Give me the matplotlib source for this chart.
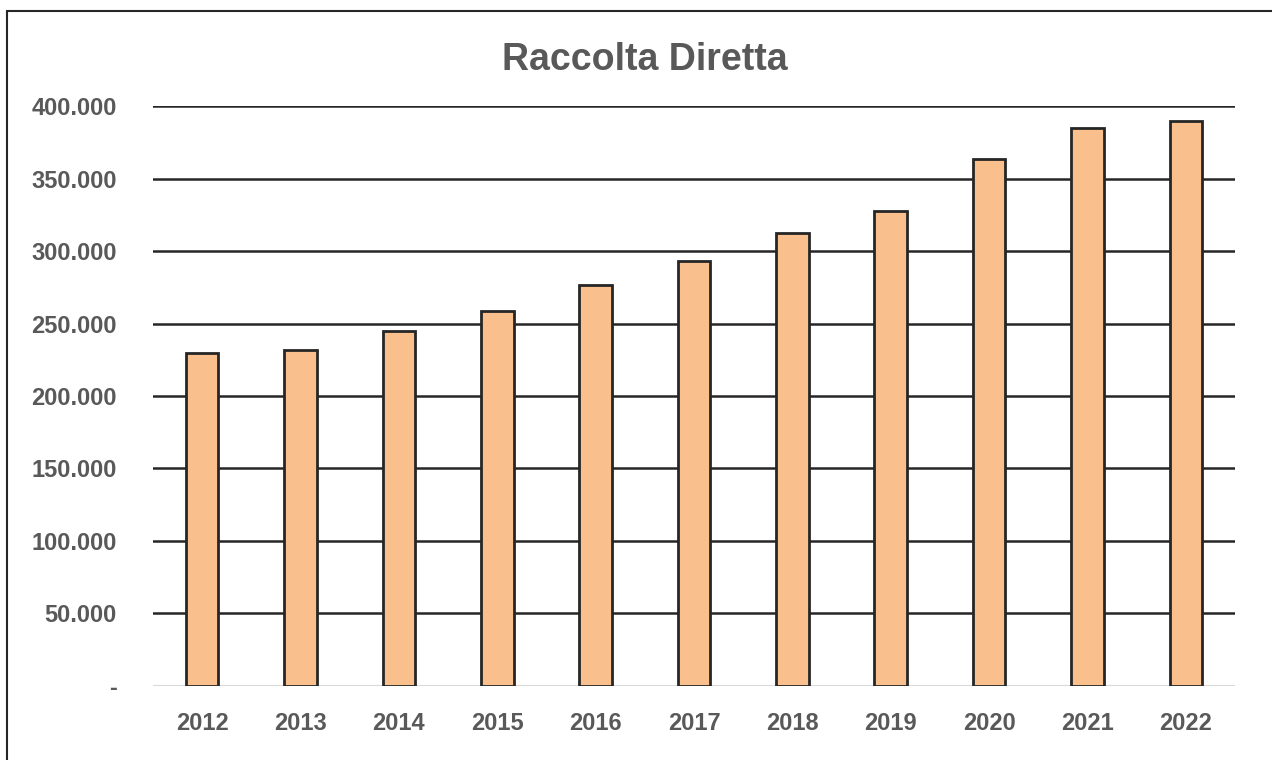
import matplotlib.pyplot as plt
from matplotlib.patches import Rectangle
from matplotlib import font_manager

years = ["2012", "2013", "2014", "2015", "2016", "2017",
         "2018", "2019", "2020", "2021", "2022"]
raccolta = [229500, 231700, 244800, 258600, 276600, 293100,
            312400, 327600, 363400, 384800, 389700]
yticks = [0, 50000, 100000, 150000, 200000, 250000, 300000, 350000, 400000]

names = {f.name for f in font_manager.fontManager.ttflist}
fam = "Liberation Sans Narrow" if "Liberation Sans Narrow" in names else "Liberation Sans"
plt.rcParams['font.family'] = [fam, 'DejaVu Sans']

grey = '#595959'

fig = plt.figure(figsize=(12.72, 7.6), dpi=100)
ax = fig.add_axes([0.1203, 0.0974, 0.8506, 0.7631])

# frame around the chart (right/bottom fall outside the picture)
fig.patches.append(Rectangle((7 / 1272, -0.05), 1.2, 1 - 11 / 760 + 0.05,
                             transform=fig.transFigure, fill=False,
                             edgecolor='#262626', linewidth=1.5))

ax.bar(range(len(years)), raccolta, width=0.33, color='#F9C08E',
       edgecolor='#262626', linewidth=2, zorder=3)

ax.set_xlim(-0.5, len(years) - 0.5)
ax.set_ylim(0, 400000)
ax.set_yticks(yticks)
ax.set_yticklabels(['-' if v == 0 else f"{v:,}".replace(',', '.') for v in yticks])
ax.set_xticks(range(len(years)))
ax.set_xticklabels(years)

for v in yticks[1:]:
    ax.axhline(v, color='#262626', linewidth=1.8, zorder=1)
ax.axhline(0, color='#D9D9D9', linewidth=1.5, zorder=2)

for s in ax.spines.values():
    s.set_visible(False)
ax.tick_params(length=0)
ax.tick_params(axis='y', pad=26, labelsize=17, labelcolor=grey)
ax.tick_params(axis='x', pad=19, labelsize=17, labelcolor=grey)
for lab in ax.get_xticklabels() + ax.get_yticklabels():
    lab.set_fontweight('bold')

fig.text(0.507, 0.921, "Raccolta Diretta", ha='center', va='center',
         fontsize=27, fontweight='bold', color=grey)

fig.savefig('out.png', dpi=100)
